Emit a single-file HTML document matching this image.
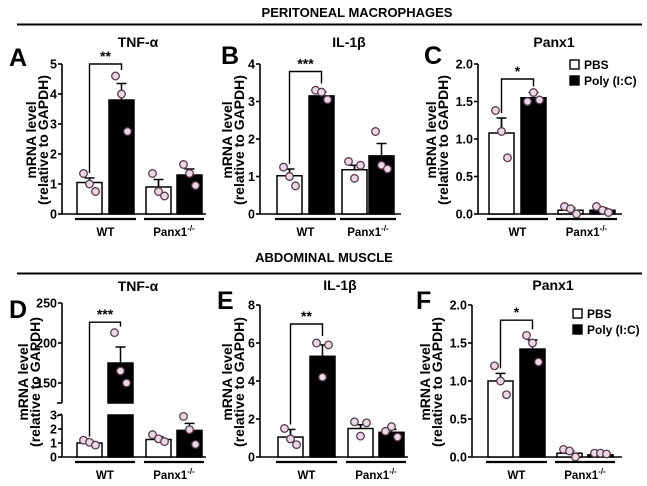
<!DOCTYPE html>
<html><head><meta charset="utf-8">
<style>
html,body{margin:0;padding:0;background:#fff;}
svg{display:block;font-family:"Liberation Sans",Arial,sans-serif;}
</style></head>
<body>
<svg id="fig" width="647" height="486" viewBox="0 0 647 486" xmlns="http://www.w3.org/2000/svg">
<text x="357" y="17" font-size="13" font-weight="bold" text-anchor="middle">PERITONEAL MACROPHAGES</text>
<line x1="17" y1="24.5" x2="642" y2="24.5" stroke="#000" stroke-width="2"/>
<text x="324" y="262" font-size="13" font-weight="bold" text-anchor="middle">ABDOMINAL MUSCLE</text>
<line x1="17" y1="273.5" x2="642" y2="273.5" stroke="#000" stroke-width="2"/>
</svg>
<script>
// ---- data: means, sem, individual points (order: WT-PBS, WT-Poly, Panx1-PBS, Panx1-Poly)
const groups = ["WT", "Panx1-/-"];
const treatments = ["PBS", "Poly (I:C)"];
const meanA = [1.05, 3.8, 0.9, 1.3];
const semA = [0.15, 0.55, 0.25, 0.2];
const ptsA = [[1.35, 1.0, 0.75], [4.6, 4.0, 2.75], [1.35, 0.75, 0.6], [1.65, 1.35, 0.95]];
const meanB = [1.02, 3.15, 1.18, 1.55];
const semB = [0.18, 0.1, 0.12, 0.33];
const ptsB = [[1.25, 1.0, 0.75], [3.3, 3.25, 3.05], [1.4, 0.95, 1.3], [2.2, 1.3, 1.2]];
const meanC = [1.08, 1.55, 0.05, 0.05];
const semC = [0.2, 0.07, 0.03, 0.03];
const ptsC = [[1.38, 1.1, 0.75], [1.5, 1.62, 1.52], [0.1, 0.07, 0.0], [0.1, 0.05, 0.02]];
const meanD = [1.0, 175, 1.25, 1.9];
const semD = [0.1, 20, 0.2, 0.5];
const ptsD = [[1.2, 1.05, 0.85], [213, 165, 150], [1.6, 1.3, 1.1], [2.9, 1.95, 0.9]];
const meanE = [1.05, 5.3, 1.5, 1.3];
const semE = [0.4, 0.6, 0.2, 0.15];
const ptsE = [[1.5, 0.95, 0.65], [6.0, 4.2, 5.9], [1.85, 1.1, 1.8], [1.35, 1.6, 1.05]];
const meanF = [1.0, 1.42, 0.05, 0.03];
const semF = [0.1, 0.12, 0.03, 0.01];
const ptsF = [[1.2, 1.0, 0.82], [1.6, 1.5, 1.25], [0.1, 0.08, 0.0], [0.05, 0.05, 0.04]];
const ticksA = [0, 1, 2, 3, 4, 5];
const ticksB = [0, 1, 2, 3, 4];
const ticksC = [0, 0.5, 1.0, 1.5, 2.0];
const ticksDlow = [0, 1, 2, 3];
const ticksDhigh = [150, 200, 250];
const ticksE = [0, 2, 4, 6, 8];
const ticksF = [0, 0.5, 1.0, 1.5, 2.0];
const sigA = "**", sigB = "***", sigC = "*", sigD = "***", sigE = "**", sigF = "*";
const bracketA = 5.0, bracketB = 3.8, bracketC = 1.8, bracketD = 226, bracketE = 7.0, bracketF = 1.8;

const NS = "http://www.w3.org/2000/svg";
const svg = document.getElementById("fig");
function mk(tag, attrs, parent) {
  const e = document.createElementNS(NS, tag);
  for (const k in attrs) e.setAttribute(k, attrs[k]);
  (parent || svg).appendChild(e);
  return e;
}
function txt(str, attrs, parent) { const t = mk("text", attrs, parent); t.textContent = str; return t; }

function linear(d0, d1, r0, r1) { return v => r0 + (v - d0) * (r1 - r0) / (d1 - d0); }

function panel(cfg) {
  const g = mk("g", {});
  
  
  const y = cfg.y;
  const y0 = y(0);
  const L = txt(cfg.letter, {x: cfg.letterX, y: cfg.letterY, "font-size": 25, "font-weight": "bold"}, g);
  
  
  const T = txt(cfg.title, {x: cfg.titleX, y: cfg.titleY, "font-size": 14, "font-weight": "bold", "text-anchor": "middle"}, g);
  
  
  const yt = mk("g", {transform: `translate(${cfg.ytX},${cfg.ytY}) rotate(-90)`}, g);
  
  
  txt("mRNA level", {x: 0, y: 0, "font-size": 14, "font-weight": "bold", "text-anchor": "middle"}, yt);
  txt("(relative to GAPDH)", {x: 0, y: 12, "font-size": 14, "font-weight": "bold", "text-anchor": "middle"}, yt);
  const ax = mk("g", {stroke: "#000", "stroke-width": 1.6, fill: "none"}, g);
  
  
  if (cfg.broken) {
    mk("line", {x1: cfg.ax, y1: y0, x2: cfg.ax, y2: y(3)}, ax);
    mk("line", {x1: cfg.ax, y1: y(125), x2: cfg.ax, y2: y(250)}, ax);
    mk("line", {x1: cfg.ax - 5, y1: y(125), x2: cfg.ax, y2: y(125)}, ax);
    mk("line", {x1: cfg.ax - 5, y1: y(3) + 1, x2: cfg.ax, y2: y(3) - 1}, ax);
  } else {
    mk("line", {x1: cfg.ax, y1: y0, x2: cfg.ax, y2: y(cfg.ticks[cfg.ticks.length - 1])}, ax);
  }
  const xa = mk("line", {x1: cfg.ax, y1: y0, x2: cfg.axEnd, y2: y0, stroke: "#000", "stroke-width": 1.6}, g);
  
  
  cfg.ticks.forEach(t => {
    mk("line", {x1: cfg.ax - 4, y1: y(t), x2: cfg.ax, y2: y(t)}, ax);
    const lab = txt(cfg.fmt(t), {x: cfg.ax - 5, y: y(t) + 4.5, "font-size": 12.5, "font-weight": "bold", "text-anchor": "end", stroke: "none", fill: "#000"}, g);
    
    
  });
  cfg.mean.forEach((m, i) => {
    const x0 = cfg.barX[i], w = cfg.barW;
    const fill = i % 2 === 0 ? "#fff" : "#000";
    const cx = x0 + w / 2;
    const ye = y(m + cfg.sem[i]);
    mk("line", {x1: cx, y1: y(m), x2: cx, y2: ye, stroke: "#000", "stroke-width": 1.5}, g);
    mk("line", {x1: cx - 5, y1: ye, x2: cx + 5, y2: ye, stroke: "#000", "stroke-width": 1.5}, g);
    if (cfg.broken && m > 3) {
      const r1 = mk("rect", {x: x0, y: y(3), width: w, height: y0 - y(3), fill: fill, stroke: "#000", "stroke-width": 1.5}, g);
      
      
      const r2 = mk("rect", {x: x0, y: y(m), width: w, height: y(125) - y(m), fill: fill, stroke: "#000", "stroke-width": 1.5}, g);
      
      
    } else {
      const r = mk("rect", {x: x0, y: y(m), width: w, height: Math.max(0.5, y0 - y(m)), fill: fill, stroke: "#000", "stroke-width": 1.5}, g);
      
      
    }
    if (i % 2 === 0) {
      mk("line", {x1: cx, y1: y(m), x2: cx, y2: ye, stroke: "#000", "stroke-width": 1.5}, g);
    }
    const offs = [-6, 0, 6];
    cfg.pts[i].forEach((p, k) => {
      const c = mk("circle", {cx: cx + offs[k], cy: y(p), r: 3.8, fill: "#ead9e3", stroke: "#5a3a50", "stroke-width": 1.3}, g);
      
      
    });
  });
  const lx = cfg.barX[0] + cfg.barW / 2, rx = cfg.barX[1] + cfg.barW / 2;
  const by = y(cfg.bracket);
  const lTop = cfg.mean[0] + cfg.sem[0], rTop = Math.max(...cfg.pts[1], cfg.mean[1] + cfg.sem[1]);
  const br = mk("polyline", {points: `${lx},${y(lTop) - 5} ${lx},${by} ${rx},${by} ${rx},${Math.min(y(rTop) - 6, by + 12)}`, fill: "none", stroke: "#000", "stroke-width": 1.4}, g);
  
  
  const st = txt(cfg.sig, {x: (lx + rx) / 2, y: by - 3, "font-size": 14, "font-weight": "bold", "text-anchor": "middle"}, g);
  
  
  groups.forEach((gname, j) => {
    const a = cfg.barX[2 * j] - 2, b = cfg.barX[2 * j + 1] + cfg.barW + 2;
    const ul = mk("line", {x1: a, y1: y0 + 5, x2: b, y2: y0 + 5, stroke: "#000", "stroke-width": 2.2}, g);
    
    
    const lb = txt("", {x: (a + b) / 2, y: y0 + 22, "font-size": 11.5, "font-weight": "bold", "text-anchor": "middle"}, g);
    
    
    if (gname === "WT") lb.textContent = "WT";
    else {
      const s1 = mk("tspan", {}, lb); s1.textContent = "Panx1";
      const s2 = mk("tspan", {dy: -5, "font-size": 8}, lb); s2.textContent = "-/-";
    }
  });
  if (cfg.legend) {
    const lg = mk("g", {}, g);
    
    
    treatments.forEach((tn, k) => {
      const yy = cfg.legend[1] + k * 16;
      mk("rect", {x: cfg.legend[0], y: yy, width: 9, height: 9, fill: k ? "#000" : "#fff", stroke: "#000", "stroke-width": 1.4}, lg);
      const lt = txt(tn, {x: cfg.legend[0] + 14, y: yy + 9, "font-size": 12, "font-weight": "bold"}, lg);
      
      
    });
  }
}
const f0 = t => String(t);
const f1 = t => t.toFixed(1);
const TOP0 = 214, TOPMAX = 64, BOT0 = 457, BOTMAX = 305;

panel({id: "panel-a-tnf-peritoneal", letter: "A", letterX: 9, letterY: 66, title: "TNF-\u03b1", titleX: 138, titleY: 47,
  ytX: 36, ytY: 140, ax: 62, axEnd: 206, y: linear(0, 5, TOP0, TOPMAX), ticks: ticksA, fmt: f0,
  mean: meanA, sem: semA, pts: ptsA, barX: [77, 109, 146, 177], barW: 25, sig: sigA, bracket: bracketA});
panel({id: "panel-b-il1b-peritoneal", letter: "B", letterX: 221, letterY: 64, title: "IL-1\u03b2", titleX: 349, titleY: 47,
  ytX: 232, ytY: 140, ax: 260, axEnd: 401, y: linear(0, 4, TOP0, TOPMAX), ticks: ticksB, fmt: f0,
  mean: meanB, sem: semB, pts: ptsB, barX: [277, 309, 342, 369], barW: 25, sig: sigB, bracket: bracketB});
panel({id: "panel-c-panx1-peritoneal", letter: "C", letterX: 424, letterY: 64, title: "Panx1", titleX: 554, titleY: 47,
  ytX: 436, ytY: 140, ax: 478, axEnd: 622, y: linear(0, 2, TOP0, TOPMAX), ticks: ticksC, fmt: f1,
  mean: meanC, sem: semC, pts: ptsC, barX: [489, 521, 558, 590], barW: 25, sig: sigC, bracket: bracketC, legend: [570, 60]});
const yD = v => v <= 3 ? BOT0 - v * 14 : 403 - (v - 125) * 0.8;
panel({id: "panel-d-tnf-muscle", letter: "D", letterX: 9, letterY: 318, title: "TNF-\u03b1", titleX: 138, titleY: 291,
  ytX: 28, ytY: 382, ax: 62, axEnd: 206, y: yD, ticks: ticksDlow.concat(ticksDhigh), fmt: f0, broken: true,
  mean: meanD, sem: semD, pts: ptsD, barX: [77, 108, 146, 177], barW: 25, sig: sigD, bracket: bracketD});
panel({id: "panel-e-il1b-muscle", letter: "E", letterX: 217, letterY: 309, title: "IL-1\u03b2", titleX: 340, titleY: 290,
  ytX: 232, ytY: 382, ax: 260, axEnd: 408, y: linear(0, 8, BOT0, BOTMAX), ticks: ticksE, fmt: f0,
  mean: meanE, sem: semE, pts: ptsE, barX: [278, 310, 348, 379], barW: 25, sig: sigE, bracket: bracketE});
panel({id: "panel-f-panx1-muscle", letter: "F", letterX: 416, letterY: 309, title: "Panx1", titleX: 553, titleY: 290,
  ytX: 430, ytY: 382, ax: 472, axEnd: 622, y: linear(0, 2, BOT0, BOTMAX), ticks: ticksF, fmt: f1,
  mean: meanF, sem: semF, pts: ptsF, barX: [488, 520, 557, 588], barW: 25, sig: sigF, bracket: bracketF, legend: [573, 309]});
</script>
</body></html>
